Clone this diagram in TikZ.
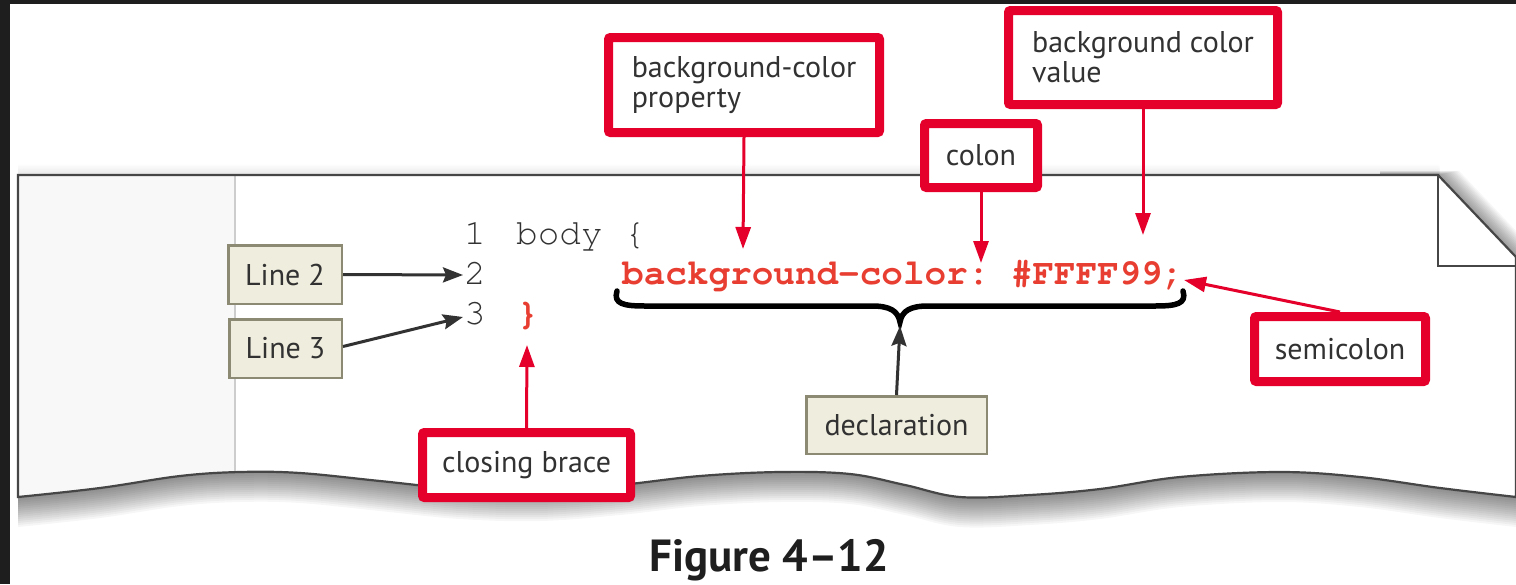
\documentclass[tikz,border=0pt]{standalone}
\usepackage[T1]{fontenc}
\usepackage{fontspec}
\setmainfont{PT Sans}
\usetikzlibrary{arrows.meta}

% Courier (Type 1) for the code listing
\newcommand{\courierfont}{\fontencoding{T1}\fontfamily{pcr}\selectfont\frenchspacing}

\definecolor{callred}{RGB}{228,0,43}
\definecolor{codered}{RGB}{232,62,50}
\definecolor{codegray}{RGB}{50,50,50}
\definecolor{inkgray}{RGB}{50,50,50}
\definecolor{tagfill}{RGB}{239,237,221}
\definecolor{tagline}{RGB}{140,138,115}
\definecolor{framedark}{RGB}{30,30,30}
\definecolor{gutterfill}{RGB}{248,248,248}
\definecolor{gutterline}{RGB}{205,205,205}
\definecolor{edgegray}{RGB}{70,70,70}

\tikzset{
  paper outline/.style={insert path={
    (18,175) -- (1438,175) -- (1516,257) --
    plot[smooth,tension=0.6] coordinates {(1516,497) (1440,488) (1360,477) (1280,472)
      (1180,477) (1100,489) (1030,495) (960,497) (905,485) (850,474) (780,472)
      (700,476) (620,485) (540,491) (460,489) (380,481) (300,473) (240,472)
      (180,476) (100,488) (18,497)} -- cycle}},
  labeltext/.style={text=inkgray, font=\fontsize{30}{30}\selectfont},
  redbox/.style={labeltext, draw=callred, line width=9pt, fill=white,
    rounded corners=2pt, inner sep=0pt, align=left},
  tagbox/.style={labeltext, draw=tagline, line width=2.5pt, fill=tagfill, inner sep=0pt},
  codenum/.style={inner sep=0pt, text=codegray, font=\courierfont\fontsize{36}{40}\selectfont},
  codered/.style={inner sep=0pt, text=codered, font=\courierfont\bfseries\fontsize{36}{40}\selectfont},
  redarrow/.style={draw=callred, line width=3pt, -{Triangle[length=22pt,width=15pt]}},
  blackarrow/.style={draw=inkgray, line width=3pt, -{Stealth[length=20pt,width=15pt,inset=3pt]}},
}

\begin{document}
\begin{tikzpicture}[x=1pt,y=-1pt]
\useasboundingbox (0,0) rectangle (1516,584);
% dark surround and white page
\fill[framedark] (0,0) rectangle (1516,584);
\fill[white] (10,4) rectangle (1516,584);

% soft shadow below the torn edge
\foreach \k in {1,...,15}
  \fill[black, opacity=0.035, shift={(0,2*\k)}, paper outline];
% shadow behind the folded corner
\begin{scope}
  \clip (1380,100) rectangle (1516,320);
  \foreach \k in {1,...,14}
    \fill[black, opacity=0.03, shift={(1.5*\k,-0.3*\k)}, paper outline];
\end{scope}
% faint shadow above the top edge
\begin{scope}
  \clip (10,140) rectangle (1440,176);
  \foreach \k in {1,...,7}
    \fill[black, opacity=0.012, shift={(0,-1.5*\k)}, paper outline];
\end{scope}

% the sheet
\fill[white, paper outline];
\begin{scope}
  \clip[paper outline];
  \fill[gutterfill] (18,175) rectangle (235,510);
  \draw[gutterline, line width=1.5pt] (235,175) -- (235,510);
\end{scope}
\draw[edgegray, line width=2.2pt, line join=miter, paper outline];
\draw[edgegray, line width=2.2pt] (1438,175) -- (1438,266) -- (1516,266);

% code lines
\node[codenum, anchor=base] (n1) at (475,244) {1};
\node[codenum, anchor=base] (n2) at (475,284) {2};
\node[codenum, anchor=base] (n3) at (475,324) {3};
\node[codenum, anchor=base west] (sel) at (516,244) {body \{};
\node[codered, anchor=base west] (rule) at (622,284) {background-color: \#FFFF99;};
\node[codered, anchor=base west] (close) at (517,324) {\}};

% brace under the declaration
\draw[black, line width=5.5pt, line cap=round]
  (617,291) .. controls (613,304) and (624,306) .. (645,306) -- (872,306)
  .. controls (890,306) and (898,311) .. (900,322)
  .. controls (902,311) and (910,306) .. (928,306) -- (1155,306)
  .. controls (1176,306) and (1187,304) .. (1183,291);

% arrow targets
\coordinate (tprop) at (743,249);
\coordinate (tcolon) at (981,263);
\coordinate (tvalue) at (1143,235);
\coordinate (tsemi) at (1184,280);
\coordinate (tclose) at (527,345);
\coordinate (tline2) at (463,275);
\coordinate (tline3) at (463,317);
\coordinate (tbrace) at (900,326);

% red callouts
\node[redbox, minimum width=271pt, minimum height=95pt] (prop) at (744,85)
  {background-color\\property};
\node[redbox, minimum width=113pt, minimum height=64pt] (colon) at (981,155.5) {colon};
\node[redbox, minimum width=269pt, minimum height=94pt] (value) at (1143,57.5)
  {background color\\value};
\node[redbox, minimum width=171pt, minimum height=65pt] (semi) at (1340,349) {semicolon};
\node[redbox, minimum width=208pt, minimum height=65pt] (brace) at (526.5,465) {closing brace};

% beige tags
\node[tagbox, minimum width=113.5pt, minimum height=58.5pt] (line2) at (285,274.5) {Line 2};
\node[tagbox, minimum width=112.5pt, minimum height=58.5pt] (line3) at (285.5,348.5) {Line 3};
\node[tagbox, minimum width=180.5pt, minimum height=57.5pt] (decl) at (896.5,425) {declaration};

% connectors
\draw[redarrow] (prop.south) -- (tprop);
\draw[redarrow] (colon.south) -- (tcolon);
\draw[redarrow] (value.south) -- (tvalue);
\draw[redarrow] (semi.north) -- (tsemi);
\draw[redarrow] (brace.north) -- (tclose);
\draw[blackarrow] (line2.east) -- (tline2);
\draw[blackarrow] (line3.east) ++(0,-2) -- (tline3);
\draw[blackarrow] (decl.north) -- (tbrace);

% caption
\node[text=framedark, font=\fontsize{45}{50}\selectfont\bfseries, anchor=base] (cap) at (769,571) {Figure 4–12};
\end{tikzpicture}
\end{document}
